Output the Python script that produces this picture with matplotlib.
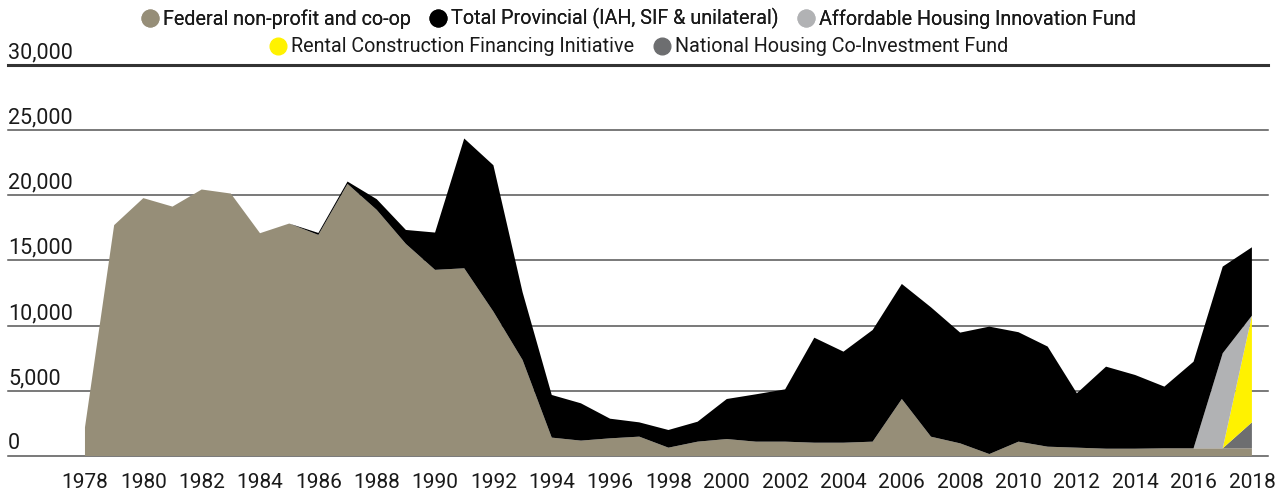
import numpy as np
import matplotlib.pyplot as plt
from matplotlib.lines import Line2D

plt.rcParams['font.family'] = ['Roboto', 'DejaVu Sans']

years = list(range(1978, 2019))

# units per year
federal = [2200, 17700, 19770, 19120, 20430, 20120, 17080, 17820, 16950, 20860,
           18870, 16260, 14270, 14390, 11070, 7360, 1410, 1180, 1355, 1485,
           640, 1100, 1300, 1100, 1100, 1020, 1020, 1100, 4370, 1480,
           970, 150, 1100, 715, 640, 560, 560, 590, 590, 590, 590]
provincial = [0, 0, 0, 0, 0, 0, 0, 0, 150, 180,
              820, 1070, 2860, 9950, 11220, 5200, 3270, 2860, 1505, 1095,
              1355, 1530, 3070, 3630, 4010, 8050, 6980, 8560, 8820, 9920,
              8490, 9770, 8390, 7675, 4170, 6290, 5650, 4730, 6640, 6640, 5240]
ahif = [0] * 38 + [0, 7290, 0]
rcfi = [0] * 38 + [0, 0, 8180]
nhcf = [0] * 38 + [0, 0, 1990]

labels = ['Federal non-profit and co-op', 'Total Provincial (IAH, SIF & unilateral)',
          'Affordable Housing Innovation Fund', 'Rental Construction Financing Initiative',
          'National Housing Co-Investment Fund']
colors = ['#968e78', '#000000', '#b1b2b4', '#fff200', '#6d6e70']

fig = plt.figure(figsize=(12.84, 4.94), dpi=100)
ax = fig.add_axes([0.0062, 0.0769, 0.9813, 0.7922])

# stacking order: federal at the bottom, provincial on top
ax.stackplot(years, federal, nhcf, rcfi, ahif, provincial,
             colors=[colors[0], colors[4], colors[3], colors[2], colors[1]],
             linewidth=0, zorder=3)

yticks = [0, 5000, 10000, 15000, 20000, 25000, 30000]
for v in yticks:
    ax.axhline(v, color='#333333' if v == 30000 else '#555555',
               lw=2.2 if v == 30000 else 1.1, zorder=1, clip_on=False)
    ax.text(0.0, v + 120, f'{v:,}', transform=ax.get_yaxis_transform(),
            ha='left', va='bottom', fontsize=15.5, color='#1a1a1a')

ax.set_xlim(1975.36, 2018.55)
ax.set_ylim(0, 30000)
ax.set_yticks([])
ax.set_xticks(years[::2])
ax.set_xticklabels([str(y) for y in years[::2]], fontsize=15, color='#1a1a1a')
ax.tick_params(axis='x', length=0, pad=12)
for s in ax.spines.values():
    s.set_visible(False)


def handle(c):
    return Line2D([], [], marker='o', ls='', markersize=12,
                  markerfacecolor=c, markeredgecolor=c)


kw = dict(frameon=False, fontsize=14.2, handletextpad=0.15, columnspacing=0.9,
          borderaxespad=0, handlelength=1.0, labelcolor='#1a1a1a')
leg1 = fig.legend([handle(c) for c in colors[:3]], labels[:3], ncol=3,
                  loc='center', bbox_to_anchor=(0.497, 0.962), **kw)
fig.add_artist(leg1)
fig.legend([handle(c) for c in colors[3:]], labels[3:], ncol=2,
           loc='center', bbox_to_anchor=(0.497, 0.905), **kw)

fig.savefig('out.png', dpi=100)
